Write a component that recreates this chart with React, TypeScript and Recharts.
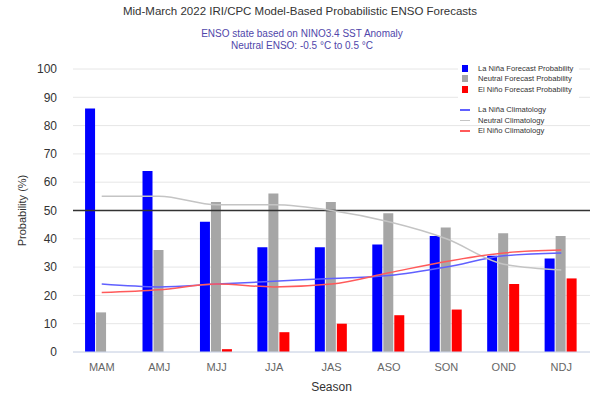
import {
  ComposedChart,
  Bar,
  Line,
  XAxis,
  YAxis,
  CartesianGrid,
  ReferenceLine,
} from "recharts";

const SEASONS = ["MAM", "AMJ", "MJJ", "JJA", "JAS", "ASO", "SON", "OND", "NDJ"];

// forecast probabilities (%)
const LA_NINA = [86, 64, 46, 37, 37, 38, 41, 34, 33];
const NEUTRAL = [14, 36, 53, 56, 53, 49, 44, 42, 41];
const EL_NINO = [0, 0, 1, 7, 10, 13, 15, 24, 26];

// climatology (%)
const LA_NINA_CLIM = [24, 23, 24, 25, 26, 27, 30, 34, 35];
const NEUTRAL_CLIM = [55, 55, 52, 52, 50, 46, 40, 31, 29];
const EL_NINO_CLIM = [21, 22, 24, 23, 24, 28, 32, 35, 36];

const Y_TICKS = [0, 10, 20, 30, 40, 50, 60, 70, 80, 90, 100];

const FONT = "'Liberation Sans', Arial, sans-serif";

const BAR_ITEMS = [
  { label: "La Niña Forecast Probability", color: "#0000ff" },
  { label: "Neutral Forecast Probability", color: "#a6a6a6" },
  { label: "El Niño Forecast Probability", color: "#ff0000" },
];
const LINE_ITEMS = [
  { label: "La Niña Climatology", color: "#6060ff" },
  { label: "Neutral Climatology", color: "#c4c4c4" },
  { label: "El Niño Climatology", color: "#ff5a5a" },
];

// legend sits on top of the plot area, top-right, like the original
function ChartLegend() {
  const row = { display: "flex", alignItems: "center", height: 10.5, whiteSpace: "nowrap" as const };
  const text = { fontSize: 7.6, color: "#333", marginLeft: 7 };
  return (
    <div style={{ position: "absolute", left: 458, top: 62, fontFamily: FONT }}>
      <div style={{ background: "#fff", padding: "1px 6px 5px 2px" }}>
        {BAR_ITEMS.map((it) => (
          <div key={it.label} style={row}>
            <span style={{ width: 6, height: 7, background: it.color, marginLeft: 2, marginRight: 3 }} />
            <span style={text}>{it.label}</span>
          </div>
        ))}
      </div>
      <div style={{ marginTop: 5, paddingLeft: 2 }}>
        {LINE_ITEMS.map((it) => (
          <div key={it.label} style={row}>
            <span style={{ width: 10, height: 1.5, background: it.color, marginRight: 1 }} />
            <span style={text}>{it.label}</span>
          </div>
        ))}
      </div>
    </div>
  );
}

export default function App() {
  const data = SEASONS.map((s, i) => ({
    season: s,
    laNina: LA_NINA[i],
    neutral: NEUTRAL[i],
    elNino: EL_NINO[i],
    laNinaClim: LA_NINA_CLIM[i],
    neutralClim: NEUTRAL_CLIM[i],
    elNinoClim: EL_NINO_CLIM[i],
  }));

  return (
    <div style={{ position: "absolute", left: 0, top: 0, width: 612, height: 399, background: "#fff", fontFamily: FONT }}>
      <div style={{ position: "absolute", top: 5, left: 0, width: 600, textAlign: "center", fontSize: 11.5, color: "#333" }}>
        Mid-March 2022 IRI/CPC Model-Based Probabilistic ENSO Forecasts
      </div>
      <div style={{ position: "absolute", top: 28, left: 0, width: 604, textAlign: "center", fontSize: 10, color: "#5046aa", lineHeight: "12px" }}>
        ENSO state based on NINO3.4 SST Anomaly
        <br />
        Neutral ENSO: -0.5 °C to 0.5 °C
      </div>

      <ComposedChart
        width={612}
        height={399}
        data={data}
        margin={{ top: 69, right: 22, bottom: 0, left: 0 }}
        barCategoryGap="21%"
        barGap={1}
      >
        <CartesianGrid vertical={false} stroke="#e6e6e6" />
        <XAxis
          dataKey="season"
          height={47}
          tickLine={false}
          tickSize={0}
          tickMargin={11}
          axisLine={{ stroke: "#ccd6eb" }}
          tick={{ fontSize: 11, fill: "#666", fontFamily: FONT }}
          label={{ value: "Season", position: "insideBottom", offset: 8, fontSize: 12, fill: "#333", fontFamily: FONT }}
        />
        <YAxis
          width={73}
          domain={[0, 100]}
          ticks={Y_TICKS}
          axisLine={false}
          tickLine={false}
          tickSize={0}
          tickMargin={16}
          tick={{ fontSize: 12, fill: "#333", fontFamily: FONT }}
          label={{ value: "Probability (%)", angle: -90, position: "insideLeft", offset: 22, fontSize: 11, fill: "#333", fontFamily: FONT, style: { textAnchor: "middle" } }}
        />
        <Bar dataKey="laNina" fill="#0000ff" isAnimationActive={false} />
        <Bar dataKey="neutral" fill="#a6a6a6" isAnimationActive={false} />
        <Bar dataKey="elNino" fill="#ff0000" isAnimationActive={false} />
        <ReferenceLine y={50} stroke="#333" strokeWidth={1.5} />
        <Line type="monotone" dataKey="laNinaClim" stroke="#6060ff" strokeWidth={1.5} dot={false} isAnimationActive={false} />
        <Line type="monotone" dataKey="neutralClim" stroke="#c4c4c4" strokeWidth={1.5} dot={false} isAnimationActive={false} />
        <Line type="monotone" dataKey="elNinoClim" stroke="#ff5a5a" strokeWidth={1.5} dot={false} isAnimationActive={false} />
      </ComposedChart>
      <ChartLegend />
    </div>
  );
}
